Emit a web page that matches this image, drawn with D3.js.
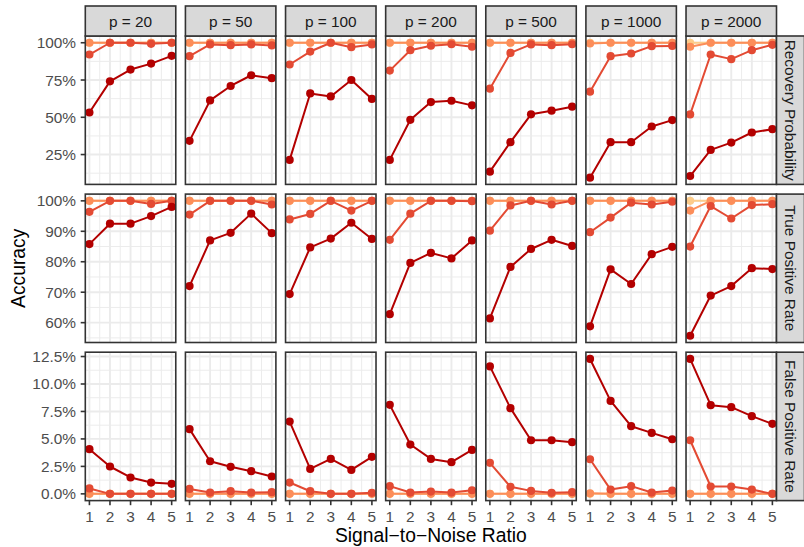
<!DOCTYPE html>
<html>
<head>
<meta charset="utf-8">
<script src="https://cdn.jsdelivr.net/npm/d3@7"></script>
<style>
  html, body { margin: 0; padding: 0; background: #fff; }
  svg { display: block; font-family: "Liberation Sans", Arial, Helvetica, sans-serif; }
</style>
</head>
<body>
<svg id="chart" width="804" height="547"></svg>
<script>
// ---- data -------------------------------------------------------------
const snr = [1, 2, 3, 4, 5];
const pValues = [20, 50, 100, 200, 500, 1000, 2000];
const metricNames = ["Recovery Probability", "True Positive Rate", "False Positive Rate"];

// tick values per metric row (percent)
const recoveryTicks = [25, 50, 75, 100];
const tprTicks = [60, 70, 80, 90, 100];
const fprTicks = [0, 2.5, 5, 7.5, 10, 12.5];

// Recovery probability (%), one row of five SNR values per p
const recovery1 = [
  [100, 100, 100, 100, 100], [100, 100, 100, 100, 100], [100, 100, 100, 100, 100],
  [100, 100, 100, 100, 100], [100, 100, 100, 100, 100], [100, 100, 100, 100, 100],
  [100, 100, 100, 100, 100]];
const recovery2 = [
  [100, 100, 100, 100, 100], [100, 100, 100, 100, 100], [100, 100, 100, 100, 100],
  [100, 100, 100, 100, 100], [100, 100, 100, 100, 100], [99.5, 100, 100, 100, 100],
  [97.3, 100, 100, 100, 100]];
const recovery3 = [
  [92.1, 100, 100, 99.3, 100], [91, 98.9, 98.4, 98.9, 98.2], [85.4, 94.1, 100, 97, 98.9],
  [81.3, 95, 98, 99, 97.3], [69.2, 93.2, 98.9, 98.4, 99], [67.2, 91, 92.8, 97.7, 97.9],
  [51.9, 92.1, 89, 95, 98.6]];
const recovery4 = [
  [53.2, 74.1, 82, 86, 91.2], [34.2, 61.3, 71, 78.2, 76.2], [21.4, 66, 64, 75, 62.3],
  [21.4, 48.3, 60.2, 61.1, 58], [13.5, 33.3, 52, 54.4, 57.1], [9.5, 33.3, 33.3, 43.8, 48.1],
  [10.6, 28.1, 33, 39.8, 42]];

// True positive rate (%)
const tpr1 = [
  [100, 100, 100, 100, 100], [100, 100, 100, 100, 100], [100, 100, 100, 100, 100],
  [100, 100, 100, 100, 100], [100, 100, 100, 100, 100], [100, 100, 100, 100, 100],
  [100, 100, 100, 100, 100]];
const tpr2 = [
  [100, 100, 100, 100, 100], [100, 100, 100, 100, 100], [100, 100, 100, 100, 100],
  [100, 100, 100, 100, 100], [100, 100, 100, 100, 100], [100, 100, 100, 100, 100],
  [96.8, 100, 100, 100, 100]];
const tpr3 = [
  [96.4, 100, 100, 99, 100], [95.5, 100, 100, 100, 98.8], [93.9, 95.7, 100, 96.8, 100],
  [87.2, 95.8, 100, 100, 99.9], [90.2, 98.5, 100, 98.8, 100], [89.7, 94.5, 99.4, 98.8, 99.7],
  [85, 98.3, 94.2, 98.6, 98.9]];
const tpr4 = [
  [85.8, 92.5, 92.5, 95, 98], [72, 87, 89.5, 95.8, 89.4], [69.4, 84.7, 87.6, 92.8, 87.5],
  [62.8, 79.6, 82.9, 81.1, 87], [61.4, 78.3, 84.2, 87.2, 85.2], [58.8, 77.5, 72.7, 82.5, 84.9],
  [55.7, 68.9, 72, 77.9, 77.6]];

// False positive rate (%)
const fpr1 = [
  [0, 0, 0, 0, 0], [0, 0, 0, 0, 0], [0, 0, 0, 0, 0], [0, 0, 0, 0, 0],
  [0, 0, 0, 0, 0], [0, 0, 0, 0, 0], [0, 0, 0, 0, 0]];
const fpr2 = [
  [0, 0, 0, 0, 0], [0, 0, 0, 0, 0], [0, 0, 0, 0, 0], [0, 0, 0, 0, 0],
  [0, 0, 0, 0, 0], [0.05, 0, 0, 0, 0], [0, 0, 0, 0, 0]];
const fpr3 = [
  [0.49, 0, 0, 0, 0], [0.45, 0.12, 0.24, 0.12, 0.15], [1.03, 0.24, 0, 0, 0.09],
  [0.7, 0.12, 0.21, 0.12, 0.33], [2.82, 0.64, 0.27, 0.09, 0.15], [3.15, 0.39, 0.7, 0.12, 0.3],
  [4.88, 0.67, 0.67, 0.39, 0]];
const fpr4 = [
  [4.07, 2.49, 1.49, 1.03, 0.91], [5.89, 2.97, 2.46, 2.06, 1.58], [6.58, 2.27, 3.18, 2.18, 3.37],
  [8.1, 4.49, 3.18, 2.88, 4.0], [11.6, 7.8, 4.88, 4.88, 4.7], [12.28, 8.46, 6.16, 5.55, 4.97],
  [12.28, 8.07, 7.89, 7.07, 6.37]];

// ---- assemble rows ----------------------------------------------------
const seriesColors = ["#FDCC8A", "#FC8D59", "#E34A33", "#B30000"];
const rows = [
  { name: metricNames[0], series: [recovery1, recovery2, recovery3, recovery4], ticks: recoveryTicks, fmt: d => d3.format(".0f")(d) + "%" },
  { name: metricNames[1], series: [tpr1, tpr2, tpr3, tpr4], ticks: tprTicks, fmt: d => d3.format(".0f")(d) + "%" },
  { name: metricNames[2], series: [fpr1, fpr2, fpr3, fpr4], ticks: fprTicks, fmt: d => d3.format(".1f")(d) + "%" }
];

// ---- layout -------------------------------------------------------------
const svg = d3.select("#chart");
svg.append("rect").attr("width", 804).attr("height", 547).attr("fill", "#fff");

const panelLeft = 85.3, panelRight = 776.5, gapX = 9.65;
const panelW = (panelRight - panelLeft - gapX * 6) / 7;
const rowTop = 36, rowH = 148.4, gapY = 9.7;
const stripTop = 6;
const rightStripW = 28;

const gridCol = "#EBEBEB", borderCol = "#333333", axisTextCol = "#4D4D4D";
const tickFont = 15.4, titleFont = 19.3;

const x = d3.scaleLinear().domain([0.8, 5.2]).range([0, panelW]);
const xMinor = [1.5, 2.5, 3.5, 4.5];

rows.forEach((row, ri) => {
  const all = row.series.flat(2);
  const [lo, hi] = d3.extent(all);
  const pad = (hi - lo) * 0.05;
  const y = d3.scaleLinear().domain([lo - pad, hi + pad]).range([rowH, 0]);
  const step = row.ticks[1] - row.ticks[0];
  const minor = [];
  for (let t = row.ticks[0] - step / 2; t <= hi + pad; t += step) {
    if (t >= lo - pad && !row.ticks.includes(t)) minor.push(t);
  }
  const top = rowTop + ri * (rowH + gapY);

  pValues.forEach((p, ci) => {
    const left = panelLeft + ci * (panelW + gapX);
    const g = svg.append("g").attr("transform", `translate(${left},${top})`);

    g.append("rect").attr("width", panelW).attr("height", rowH).attr("fill", "#fff");

    // minor grid
    g.selectAll(".ymin").data(minor).join("line")
      .attr("x1", 0).attr("x2", panelW).attr("y1", d => y(d)).attr("y2", d => y(d))
      .attr("stroke", gridCol).attr("stroke-width", 0.95);
    g.selectAll(".xmin").data(xMinor).join("line")
      .attr("y1", 0).attr("y2", rowH).attr("x1", d => x(d)).attr("x2", d => x(d))
      .attr("stroke", gridCol).attr("stroke-width", 0.95);
    // major grid
    g.selectAll(".ymaj").data(row.ticks).join("line")
      .attr("x1", 0).attr("x2", panelW).attr("y1", d => y(d)).attr("y2", d => y(d))
      .attr("stroke", gridCol).attr("stroke-width", 1.9);
    g.selectAll(".xmaj").data(snr).join("line")
      .attr("y1", 0).attr("y2", rowH).attr("x1", d => x(d)).attr("x2", d => x(d))
      .attr("stroke", gridCol).attr("stroke-width", 1.9);

    // series: lines then points, lightest first
    const line = d3.line().x((d, i) => x(snr[i])).y(d => y(d));
    row.series.forEach((s, si) => {
      const vals = s[ci];
      g.append("path").attr("d", line(vals)).attr("fill", "none")
        .attr("stroke", seriesColors[si]).attr("stroke-width", 2).attr("stroke-linejoin", "round");
      g.selectAll(null).data(vals).join("circle")
        .attr("cx", (d, i) => x(snr[i])).attr("cy", d => y(d)).attr("r", 4.1)
        .attr("fill", seriesColors[si]);
    });

    g.append("rect").attr("width", panelW).attr("height", rowH)
      .attr("fill", "none").attr("stroke", borderCol).attr("stroke-width", 1.6);

    // top strips
    if (ri === 0) {
      const s = svg.append("g").attr("transform", `translate(${left},${stripTop})`);
      s.append("rect").attr("width", panelW).attr("height", rowTop - stripTop)
        .attr("fill", "#D9D9D9").attr("stroke", borderCol).attr("stroke-width", 1.6);
      s.append("text").attr("x", panelW / 2).attr("y", 21.3).attr("text-anchor", "middle")
        .attr("font-size", tickFont).attr("fill", "#1A1A1A").text(`p = ${p}`);
    }

    // y axis on first column
    if (ci === 0) {
      const ax = svg.append("g").attr("transform", `translate(${left},${top})`);
      ax.selectAll("line").data(row.ticks).join("line")
        .attr("x1", -4.6).attr("x2", 0).attr("y1", d => y(d)).attr("y2", d => y(d))
        .attr("stroke", borderCol).attr("stroke-width", 1.6);
      ax.selectAll("text").data(row.ticks).join("text")
        .attr("x", -9.3).attr("y", d => y(d) + 5.5).attr("text-anchor", "end")
        .attr("font-size", tickFont).attr("fill", axisTextCol).text(row.fmt);
    }

    // x axis on bottom row
    if (ri === rows.length - 1) {
      const ax = svg.append("g").attr("transform", `translate(${left},${top + rowH})`);
      ax.selectAll("line").data(snr).join("line")
        .attr("y1", 0).attr("y2", 4.6).attr("x1", d => x(d)).attr("x2", d => x(d))
        .attr("stroke", borderCol).attr("stroke-width", 1.6);
      ax.selectAll("text").data(snr).join("text")
        .attr("x", d => x(d)).attr("y", 21.2).attr("text-anchor", "middle")
        .attr("font-size", tickFont).attr("fill", axisTextCol).text(d => d);
    }
  });

  // right strip
  const rs = svg.append("g").attr("transform", `translate(${panelRight},${top})`);
  rs.append("rect").attr("width", rightStripW).attr("height", rowH)
    .attr("fill", "#D9D9D9").attr("stroke", borderCol).attr("stroke-width", 1.6);
  rs.append("text").attr("transform", `translate(${8.2},${rowH / 2}) rotate(90)`)
    .attr("text-anchor", "middle").attr("font-size", tickFont).attr("fill", "#1A1A1A")
    .text(row.name);
});

// axis titles
const plotMidY = rowTop + (rows.length * rowH + (rows.length - 1) * gapY) / 2;
svg.append("text").attr("transform", `translate(24.5,${plotMidY}) rotate(-90)`)
  .attr("text-anchor", "middle").attr("font-size", titleFont).attr("fill", "#000")
  .text("Accuracy");
svg.append("text").attr("x", (panelLeft + panelRight) / 2).attr("y", 541.5)
  .attr("text-anchor", "middle").attr("font-size", titleFont).attr("fill", "#000")
  .text("Signal\u2212to\u2212Noise Ratio");
</script>
</body>
</html>
